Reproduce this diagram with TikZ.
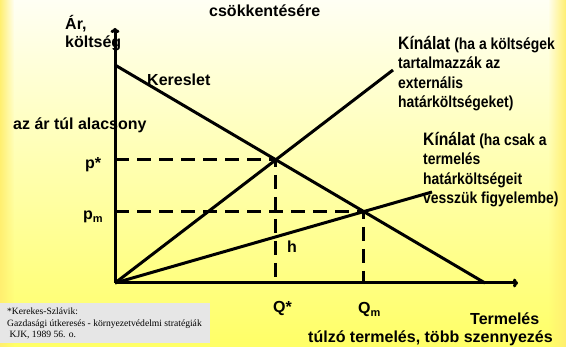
\documentclass[tikz,border=0pt]{standalone}
\usepackage{fontspec}
\setmainfont{Liberation Sans}
\newfontfamily\narrowsans[FakeStretch=0.87]{Liberation Sans}
\newfontfamily\citeserif{Liberation Serif}
\usetikzlibrary{arrows.meta}
\usetikzlibrary{fadings}
\definecolor{bgtop}{HTML}{FFFFF4}
\definecolor{bgbot}{HTML}{FFFF66}
\definecolor{bgside}{HTML}{FFEF70}
\definecolor{citebox}{HTML}{E6E6E6}
\tikzfading[name=fadeout east, left color=transparent!0, right color=transparent!100]
\tikzfading[name=fadeout west, left color=transparent!100, right color=transparent!0]
\tikzset{
  % axes, curves and the dashed guides
  axis/.style={line width=3pt, -{To[length=5pt,width=9pt]}},
  curve/.style={line width=3pt},
  guide/.style={line width=3pt, dash pattern=on 14pt off 8pt},
  % texts (multi-line ones sit on their last line)
  lbl/.style={font=\fontsize{16}{18}\selectfont\bfseries, inner sep=0pt, anchor=base west},
  kin/.style={font=\narrowsans\bfseries\fontsize{16}{19.5}\selectfont, inner sep=0pt,
    align=left, anchor=base west},
  cite/.style={font=\citeserif\fontsize{9.6}{11.5}\selectfont, inner sep=0pt,
    align=left, anchor=base west},
}
\newcommand{\sbm}{\raisebox{-3pt}{\fontsize{11}{11}\selectfont m}}

\begin{document}
\begin{tikzpicture}[x=1pt, y=-1pt]

  % background
  \shade[top color=bgtop, bottom color=bgbot] (0,0) rectangle (566,347);
  \fill[bgside, path fading=fadeout east] (0,0) rectangle (14,347);
  \fill[bgside, path fading=fadeout west] (548,0) rectangle (566,347);
  \useasboundingbox (0,0) rectangle (566,347);

  \coordinate (O) at (115,283);
  \coordinate (ytip) at (115,28);
  \coordinate (xtip) at (518,283);
  \coordinate (dtop) at (115,65);
  \coordinate (dbot) at (485,283);
  \coordinate (s1end) at (393,70);
  \coordinate (s2end) at (432,192);
  \coordinate (pstar) at (intersection of dtop--dbot and O--s1end);
  \coordinate (pmpt) at (intersection of dtop--dbot and O--s2end);

  % guides
  \draw[guide] (O |- pstar) -- (pstar) -- (pstar |- O);
  \draw[guide] (O |- pmpt) -- (pmpt) -- (pmpt |- O);

  % curves
  \draw[curve] (dtop) -- (dbot);
  \draw[curve] (O) -- (s1end);
  \draw[curve] (O) -- (s2end);

  % axes
  \draw[axis] (O) -- (ytip);
  \draw[axis] (O) -- (xtip);

  \node[lbl] (title) at (209,17) {csökkentésére};
  \node[lbl, align=left] (yname) at (65,48) {Ár,\\költség};
  \node[lbl] (demand) at (147,86) {Kereslet};
  \node[lbl] (low) at (13,130) {az ár túl alacsony};
  \node[lbl] (pst) at (85,169) {p*};
  \node[lbl] (pm) at (83,220) {p\sbm};
  \node[lbl] (h) at (287,253) {h};
  \node[lbl] (Qst) at (273,313) {Q*};
  \node[lbl] (Qm) at (358,314) {Q\sbm};
  \node[lbl] (xname) at (470,325) {Termelés};
  \node[lbl] (more) at (308,343) {túlzó termelés, több szennyezés};

  \node[kin] (supply1) at (398,108) {{\fontsize{18}{19.5}\selectfont Kínálat} (ha a költségek\\
    tartalmazzák az\\externális\\határköltségeket)};
  \node[kin] (supply2) at (423,204) {{\fontsize{18}{19.5}\selectfont Kínálat} (ha csak a\\
    termelés\\határköltségeit\\vesszük figyelembe)};

  % source
  \fill[citebox] (0,303) rectangle (210,343);
  \node[cite] (src) at (7,338) {*Kerekes-Szlávik:\\Gazdasági útkeresés - környezetvédelmi stratégiák\\
    \ KJK, 1989 56. o.};

\end{tikzpicture}
\end{document}
